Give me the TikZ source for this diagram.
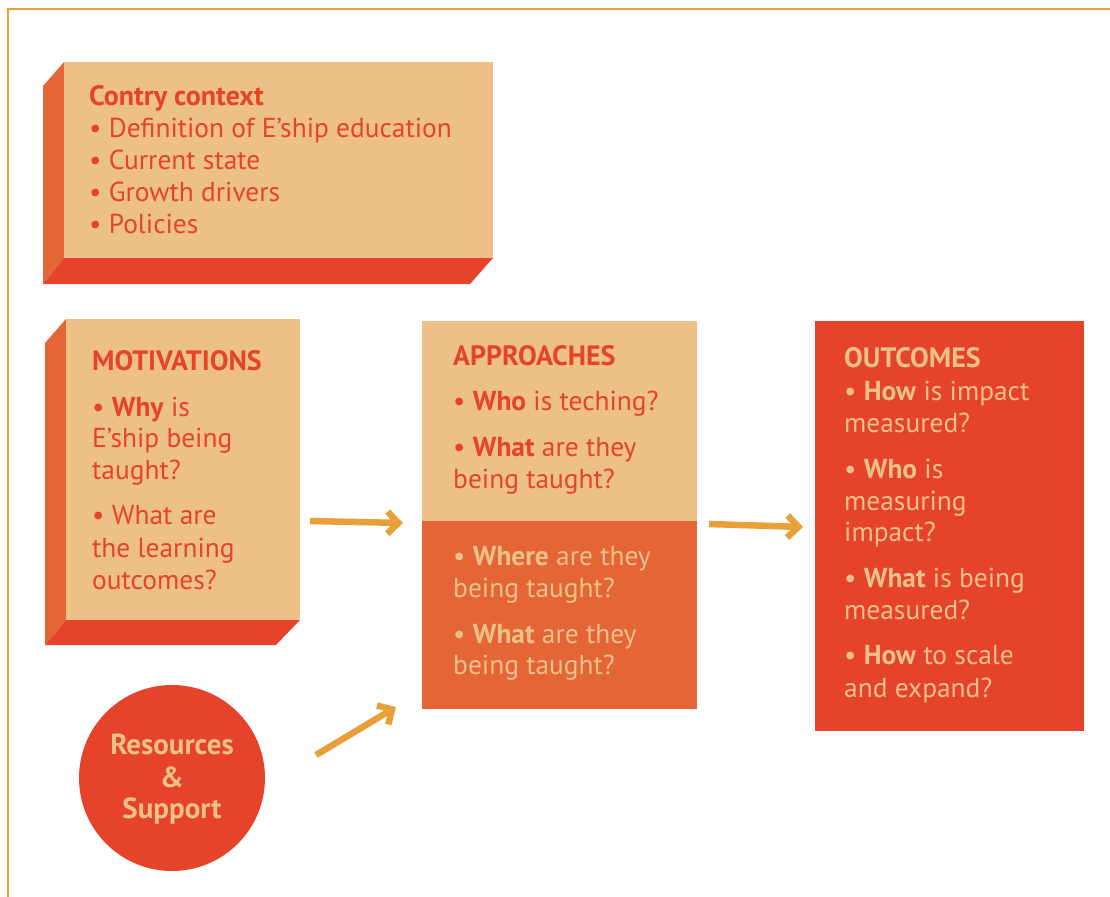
\documentclass[tikz,border=0pt]{standalone}
\usepackage{fontspec}
\setmainfont{PT Sans}
\usetikzlibrary{arrows.meta}
\definecolor{tanc}{RGB}{236,192,135}
\definecolor{redc}{RGB}{229,68,42}
\definecolor{orc}{RGB}{228,102,54}
\definecolor{arrc}{RGB}{233,160,56}
\begin{document}
\begin{tikzpicture}[x=1bp,y=-1bp,
  tl/.style={anchor=base west,inner sep=0pt,font=\fontsize{27.4bp}{32bp}\selectfont},
  tt/.style={anchor=base west,inner sep=0pt,font=\fontsize{28bp}{32bp}\selectfont\bfseries},
  ct/.style={anchor=base,inner sep=0pt,font=\fontsize{29bp}{32bp}\selectfont\bfseries,text=tanc},
  arr/.style={draw=arrc,line width=6.5bp,-{Straight Barb[length=11bp,width=22bp]}}]
\useasboundingbox (0,0) rectangle (1110,897);
% frame
\draw[arrc,line width=2bp] (8,900) -- (8,9) -- (1112,9);
% context box
\fill[orc] (43,86) -- (64,62) -- (64,258) -- (43,284) -- cycle;
\fill[redc] (64,258) -- (493,258) -- (470,284) -- (43,284) -- cycle;
\fill[tanc] (64,62) rectangle (493,258);
\node[tt,text=redc] (c0) at (89,105) {Contry context};
\node[tl,text=redc] (c1) at (89,137) {• Definition of E’ship education};
\node[tl,text=redc] (c2) at (89,169) {• Current state};
\node[tl,text=redc] (c3) at (89,201) {• Growth drivers};
\node[tl,text=redc] (c4) at (89,233) {• Policies};
% motivations
\fill[orc] (45,343) -- (66,319) -- (66,620) -- (45,645) -- cycle;
\fill[redc] (66,620) -- (300,620) -- (276,645) -- (45,645) -- cycle;
\fill[tanc] (66,319) rectangle (300,620);
\node[tt,text=redc] (m0) at (92,370) {MOTIVATIONS};
\node[tl,text=redc] (m1) at (92,416) {• \textbf{Why} is};
\node[tl,text=redc] (m2) at (92,447) {E’ship being};
\node[tl,text=redc] (m3) at (92,479) {taught?};
\node[tl,text=redc] (m4) at (92,524) {• What are};
\node[tl,text=redc] (m5) at (92,557) {the learning};
\node[tl,text=redc] (m6) at (92,589) {outcomes?};
% approaches
\fill[tanc] (422,321) rectangle (697,521);
\fill[orc] (422,521) rectangle (697,709);
\node[tt,text=redc] (a0) at (453,365) {APPROACHES};
\node[tl,text=redc] (a1) at (453,410) {• \textbf{Who} is teching?};
\node[tl,text=redc] (a2) at (453,456) {• \textbf{What} are they};
\node[tl,text=redc] (a3) at (453,488) {being taught?};
\node[tl,text=tanc] (a4) at (453,565) {• \textbf{Where} are they};
\node[tl,text=tanc] (a5) at (453,597) {being taught?};
\node[tl,text=tanc] (a6) at (453,643) {• \textbf{What} are they};
\node[tl,text=tanc] (a7) at (453,674) {being taught?};
% outcomes
\fill[redc] (815,321) rectangle (1084,731);
\node[tt,text=tanc] (o0) at (844,367) {OUTCOMES};
\node[tl,text=tanc] (o1) at (844,400) {• \textbf{How} is impact};
\node[tl,text=tanc] (o2) at (844,432) {measured?};
\node[tl,text=tanc] (o3) at (844,478) {• \textbf{Who} is};
\node[tl,text=tanc] (o4) at (844,510) {measuring};
\node[tl,text=tanc] (o5) at (844,541) {impact?};
\node[tl,text=tanc] (o6) at (844,587) {• \textbf{What} is being};
\node[tl,text=tanc] (o7) at (844,619) {measured?};
\node[tl,text=tanc] (o8) at (844,664) {• \textbf{How} to scale};
\node[tl,text=tanc] (o9) at (844,697) {and expand?};
% resources
\node[circle,fill=redc,minimum size=186bp,inner sep=0pt] (res) at (172,778) {};
\node[ct] (r1) at (172,754) {Resources};
\node[ct] (r2) at (172,787) {\&};
\node[ct] (r3) at (172,818) {Support};
% arrows
\coordinate (p1) at (310,521);
\coordinate (q1) at (403,523);
\coordinate (p2) at (709,524);
\coordinate (q2) at (803,527);
\coordinate (p3) at (316,755);
\coordinate (q3) at (396,707);
\draw[arr] (p1) -- (q1);
\draw[arr] (p2) -- (q2);
\draw[arr] (p3) -- (q3);
\end{tikzpicture}
\end{document}
